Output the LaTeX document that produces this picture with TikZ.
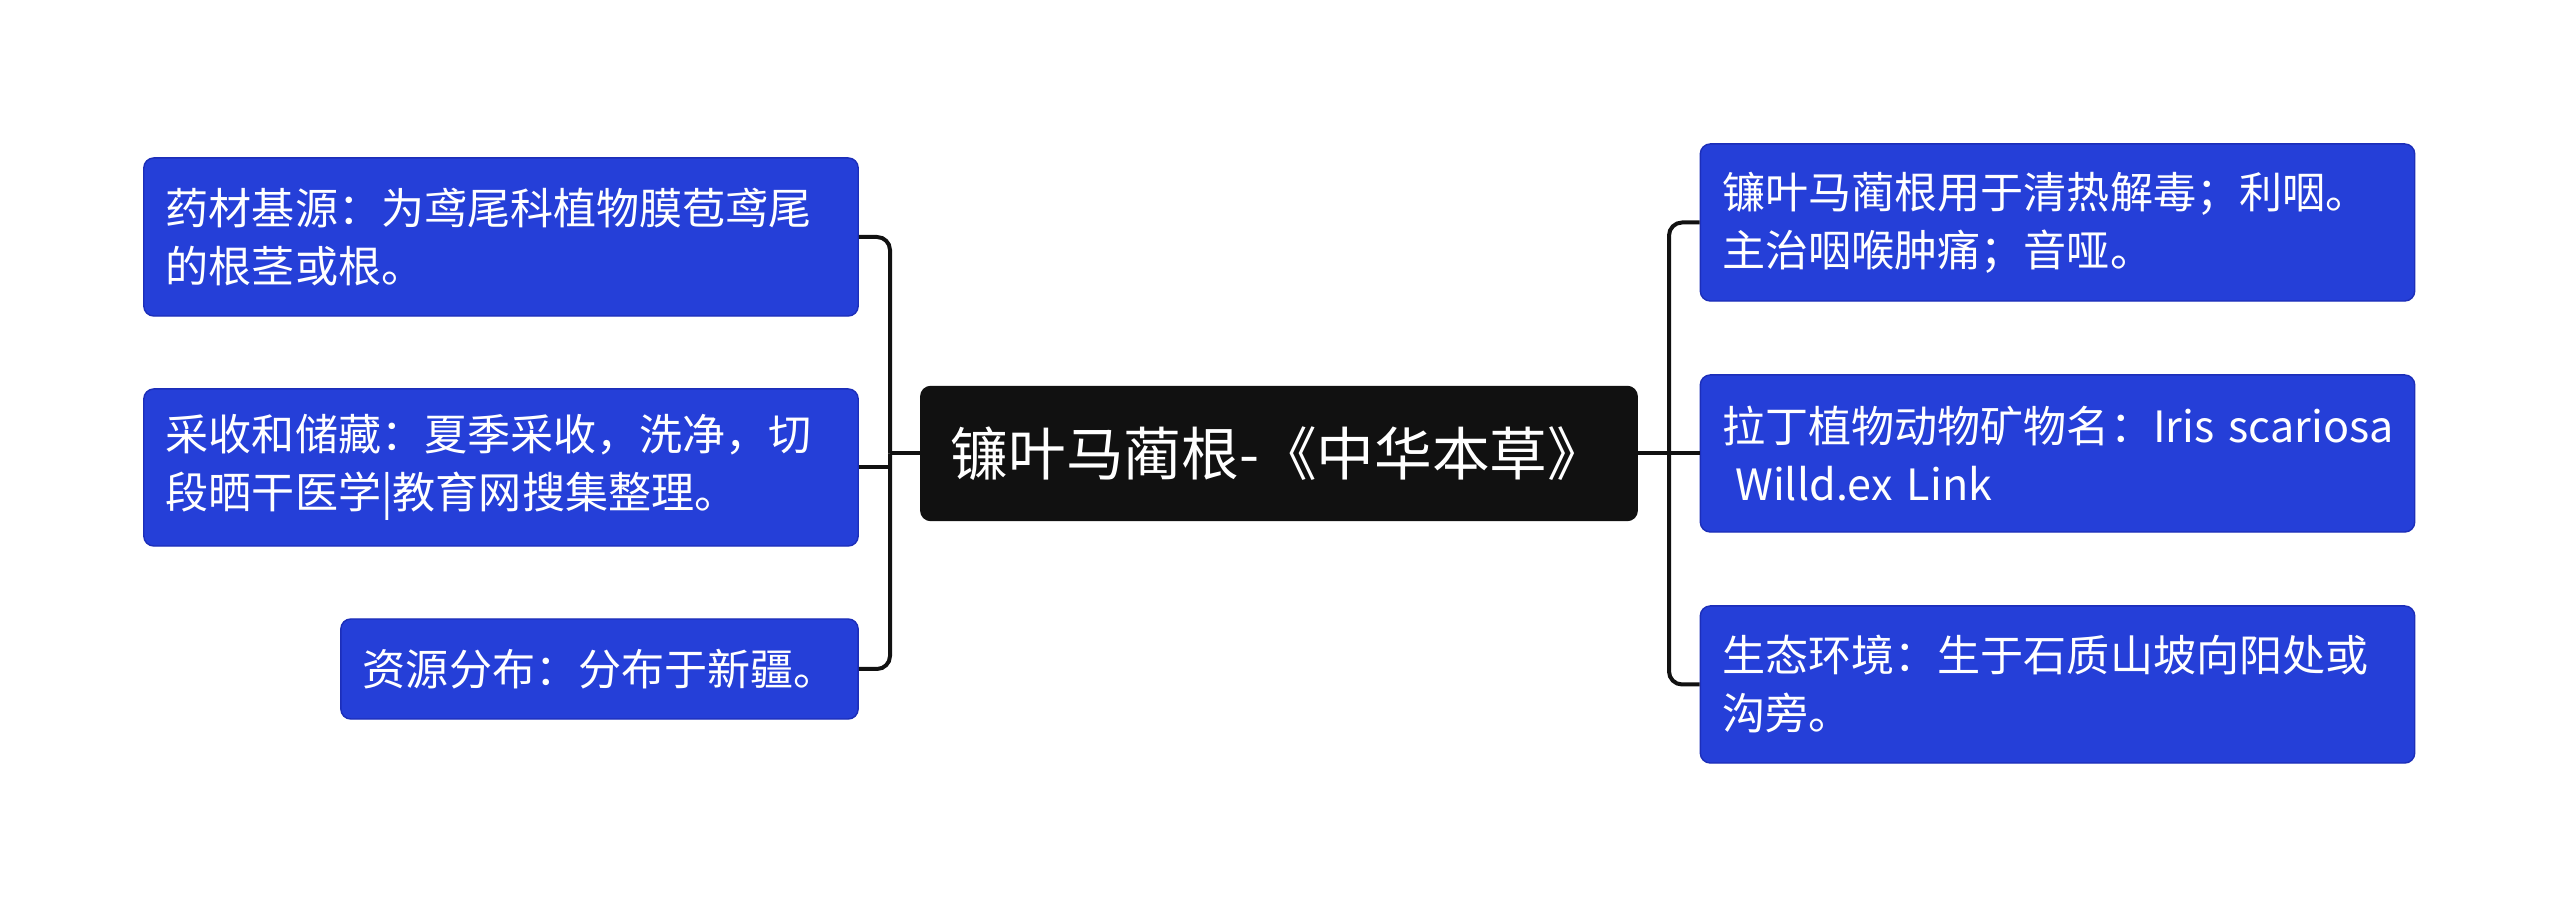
\documentclass[tikz,border=0pt]{standalone}
\usepackage{fontspec}
\setmainfont{Noto Sans CJK SC}
\definecolor{boxblue}{RGB}{37,63,216}
\definecolor{boxedge}{RGB}{28,46,185}
\definecolor{centerfill}{RGB}{17,17,17}
\definecolor{linecol}{RGB}{17,17,17}
\begin{document}
\begin{tikzpicture}[x=0.01cm,y=-0.01cm,
  leaf/.style={rectangle, rounded corners=0.1cm, fill=boxblue, draw=boxedge, line width=0.4pt,
    text=white, align=left, inner xsep=0.22cm, inner ysep=0pt,
    font=\fontsize{12.25pt}{16.5pt}\selectfont},
  root/.style={rectangle, rounded corners=0.1cm, fill=centerfill, draw=centerfill,
    text=white, align=left, inner xsep=0.3cm, inner ysep=0pt,
    minimum width=7.16cm, minimum height=1.34cm, text width=6.56cm,
    font=\fontsize{16.4pt}{19pt}\selectfont},
  conn/.style={draw=linecol, line width=0.04cm, rounded corners=0.13cm}]
\useasboundingbox (0,0) rectangle (2560,907);
\fill[white] (0,0) rectangle (2560,907);

\node[root] (C) at (1279,453.5) {镰叶马蔺根-《中华本草》};

\node[leaf, minimum width=7.14cm, minimum height=1.58cm, text width=6.70cm] (L1) at (501,237)
  {药材基源：为鸢尾科植物膜苞鸢尾\\的根茎或根。};
\node[leaf, minimum width=7.14cm, minimum height=1.57cm, text width=6.70cm] (L2) at (501,467.5)
  {采收和储藏：夏季采收，洗净，切\\段晒干医学|教育网搜集整理。};
\node[leaf, minimum width=5.17cm, minimum height=1.0cm, text width=4.73cm] (L3) at (599.5,669)
  {资源分布：分布于新疆。};

\node[leaf, minimum width=7.14cm, minimum height=1.57cm, text width=6.70cm] (R1) at (2057.5,222.5)
  {镰叶马蔺根用于清热解毒；利咽。\\主治咽喉肿痛；音哑。};
\node[leaf, minimum width=7.14cm, minimum height=1.57cm, text width=6.70cm] (R2) at (2057.5,453.5)
  {\mbox{拉丁植物动物矿物名：Iris scariosa}\\\hspace*{0.3em}Willd.ex Link};
\node[leaf, minimum width=7.14cm, minimum height=1.57cm, text width=6.70cm] (R3) at (2057.5,684.5)
  {生态环境：生于石质山坡向阳处或\\沟旁。};

\coordinate (lb) at (890,453.5);
\coordinate (rb) at (1669,453.5);

\draw[conn] (C.west) -- (lb);
\draw[conn] (lb) |- (L1.east);
\draw[conn] (lb) |- (L3.east);
\draw[conn] (L2.east) -- (L2.east -| lb);

\draw[conn] (C.east) -- (rb);
\draw[conn] (rb) |- (R1.west);
\draw[conn] (rb) |- (R3.west);
\draw[conn] (R2.west) -- (R2.west -| rb);
\end{tikzpicture}
\end{document}
